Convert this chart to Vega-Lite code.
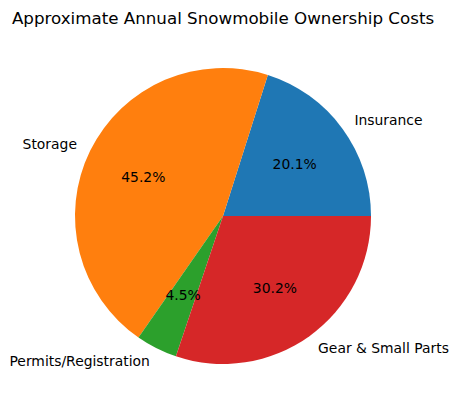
{
  "$schema": "https://vega.github.io/schema/vega-lite/v6.json",
  "autosize": {"type": "none"},
  "width": 446,
  "height": 350,
  "padding": {"left": 0, "top": 41, "right": 13, "bottom": 20},
  "background": "white",
  "title": {
    "text": "Approximate Annual Snowmobile Ownership Costs",
    "font": "DejaVu Sans",
    "fontSize": 16.7,
    "fontWeight": "normal",
    "color": "black",
    "anchor": "middle",
    "offset": 13
  },
  "data": {
    "values": [
      {"category": "Insurance", "cost": 400, "order": 1},
      {"category": "Storage", "cost": 900, "order": 2},
      {"category": "Permits/Registration", "cost": 90, "order": 3},
      {"category": "Gear & Small Parts", "cost": 600, "order": 4}
    ]
  },
  "transform": [
    {"joinaggregate": [{"op": "sum", "field": "cost", "as": "total"}]},
    {"calculate": "format(datum.cost / datum.total * 100, '.1f') + '%'", "as": "pct"}
  ],
  "encoding": {
    "theta": {
      "field": "cost",
      "type": "quantitative",
      "stack": true,
      "scale": {"range": [1.5707963, -4.712389]}
    },
    "order": {"field": "order", "type": "quantitative"}
  },
  "layer": [
    {
      "mark": {"type": "arc", "outerRadius": 148},
      "encoding": {
        "color": {
          "field": "category",
          "type": "nominal",
          "legend": null,
          "scale": {
            "domain": ["Insurance", "Storage", "Permits/Registration", "Gear & Small Parts"],
            "range": ["#1f77b4", "#ff7f0e", "#2ca02c", "#d62728"]
          }
        }
      }
    },
    {
      "mark": {"type": "text", "radius": 88.8, "font": "DejaVu Sans", "fontSize": 13.9, "color": "black", "align": "center", "baseline": "middle", "dy": 1},
      "encoding": {"text": {"field": "pct"}}
    },
    {
      "mark": {"type": "text", "radius": 162.8, "font": "DejaVu Sans", "fontSize": 13.9, "color": "black", "align": "left", "baseline": "middle", "dy": 1},
      "encoding": {
        "text": {
          "condition": {"test": "datum.category == 'Insurance' || datum.category == 'Gear & Small Parts'", "field": "category"},
          "value": ""
        }
      }
    },
    {
      "mark": {"type": "text", "radius": 162.8, "font": "DejaVu Sans", "fontSize": 13.9, "color": "black", "align": "right", "baseline": "middle", "dy": 1},
      "encoding": {
        "text": {
          "condition": {"test": "datum.category == 'Storage' || datum.category == 'Permits/Registration'", "field": "category"},
          "value": ""
        }
      }
    }
  ]
}
